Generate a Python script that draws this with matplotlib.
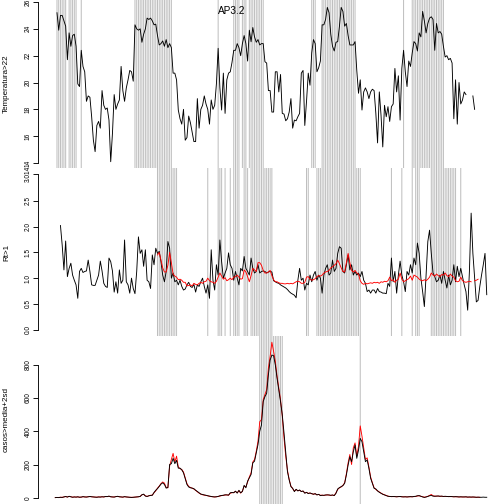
import numpy as np
import matplotlib
matplotlib.use("Agg")
import matplotlib.pyplot as plt

nan = np.nan
N_WEEKS = 250

# ---------------- data ----------------
temp_start = 1
temperature = [
    25.2, 23.9, 25.0, 25.0, 24.6, 24.2, 21.7, 23.7, 22.7, 23.5,
    23.6, 22.7, 19.9, 19.7, 22.4, 21.2, 20.8, 18.6, 19.0, 18.9,
    17.45, 15.7, 14.85, 16.8, 17.1, 16.6, 19.4, 18.3, 18.0, 18.1,
    17.2, 14.1, 16.2, 19.1, 18.0, 18.4, 18.7, 21.2, 19.4, 18.6,
    19.6, 20.2, 20.9, 20.8, 20.1, 24.3, 24.0, 23.9, 24.0, 23.0,
    23.6, 24.0, 24.8, 24.7, 24.8, 24.6, 24.3, 24.35, 23.5, 22.8,
    22.9, 23.1, 22.7, 23.2, 22.6, 22.9, 22.6, 20.7, 20.7, 20.2,
    17.95, 17.3, 16.9, 18.0, 15.7, 15.9, 17.5, 17.0, 16.3, 15.6,
    15.6, 18.8, 16.6, 18.0, 18.3, 19.0, 18.4, 18.0, 16.9, 18.7,
    18.0, 18.3, 19.9, 22.55, 19.6, 17.95, 20.7, 17.7, 20.2, 20.7,
    20.8, 21.5, 22.4, 22.4, 22.9, 22.6, 22.0, 22.9, 23.5, 22.9,
    21.6,
    23.9, 23.04, 24.1, 23.4, 23.0, 23.2, 22.8, 22.9, 22.9, 21.55,
    21.45, 19.4, 19.4, 17.8, 17.8, 20.8, 20.8, 19.3, 20.6, 17.7,
    17.65, 17.15, 17.3, 17.8, 18.8, 16.6, 17.2, 17.15, 17.45, 17.7,
    20.7, 20.9, 16.8, 18.6, 20.7, 19.8, 22.2, 23.2, 22.9, 20.8,
    21.1, 21.6, 24.3, 24.3, 24.7, 25.6, 25.2, 23.6, 22.7, 22.35,
    23.0, 23.05, 24.2, 25.6, 25.3, 24.2, 24.4, 23.5, 22.8, 22.8,
    22.8, 23.05, 20.9, 19.2, 20.2, 17.95, 19.3, 19.6, 19.3, 18.8,
    19.3, 19.5, 19.4, 17.7, 15.5, 19.3, 17.55, 15.2, 18.3, 17.45,
    18.2, 17.1, 18.2, 18.4, 21.05, 19.3, 20.5, 17.2, 21.05, 22.4,
    20.8, 19.7, 21.6, 21.2, 22.2, 23.05, 22.9, 22.35, 23.7, 23.4,
    25.3, 24.6, 23.7, 24.4, 24.8, 24.9, 24.7, 22.4, 24.4, 23.7,
    23.8, 23.6, 22.7, 21.9, 22.0, 21.7, 21.8, 21.45, 17.3, 20.2,
    16.9, 20.0, 18.4, 18.7, 19.3, 19.1, nan, nan, nan, 19.0, 18.0,
]
temp_threshold = 22

rt_start = 3
rt = [
    2.02, 1.64, 1.16, 1.72, 1.03, 1.19, 1.29, 1.06, 0.96, 0.87,
    0.61, 1.13, 1.19, 1.11, 1.13, 1.14, 1.35, 1.13, 0.87, 0.86,
    0.86, 0.96, 1.06, 1.33, 1.14, 0.90, 0.84, 0.82, 1.39, 1.32,
    1.14, 0.73, 0.93, 0.71, 1.16, 0.90, 0.96, 1.74, 0.93, 0.87,
    0.71, 1.00, 0.80, 0.70, 1.13, 1.80, 1.48, 1.55, 1.23, 1.55,
    0.96, 0.93, 0.80, 1.45, 1.26, 1.58, 1.48, 1.52, 1.32, 1.06,
    0.93, 1.13, 1.71, 1.58, 1.00, 1.10, 0.93, 0.96, 0.87, 0.96,
    0.84, 0.77, 0.79, 0.87, 0.92, 0.84, 0.82, 0.88, 0.73, 0.87,
    0.84, 0.93, 1.00, 0.84, 0.71, 0.87, 0.61, 1.55, 0.96, 0.77,
    1.26, 1.06, 1.74, 1.32, 1.00, 1.10, 1.19, 1.49, 1.26, 1.19,
    0.96, 1.13, 1.00, 0.87, 1.19, 1.14, 1.42, 1.19, 1.13, 1.06,
    1.39, 1.19, 1.10, 1.13, 1.26,
    1.10, 1.13, 1.14, 1.13, 1.10, 1.12, 1.13, 1.12, 0.95, 0.93,
    0.91, 0.90, 0.87, 0.85, 0.83, 0.81, 0.78, 0.74, 0.71, 0.69,
    0.67, 0.62, 0.96,
    1.19, 0.96, 1.00, 0.77, 0.90, 0.87, 1.06, 0.93, 1.06, 1.13,
    0.96, 1.06, 1.00, 0.71, 1.06, 1.19, 1.26, 1.06, 1.10, 1.35,
    1.13, 1.19, 1.48, 1.61, 1.58, 1.13, 1.10, 1.26, 1.45, 1.16,
    1.26, 1.06, 1.13, 1.06, 1.10, 1.03, 1.13, 0.96, 0.90, 0.74,
    0.77, 0.71, 0.77, 0.77, 0.71, 0.80, 0.74, 0.73, 0.71, 0.71,
    0.70, 0.90, 0.84, 1.39, 0.93, 1.13, 0.71, 1.06, 1.33, 1.06,
    0.93, 0.74, 1.13, 1.06, 1.26, 1.10, 1.39, 1.26, 1.68, 1.48,
    1.00, 0.74, 0.45, 1.06, 1.71, 1.93, 1.48, 1.10, 1.03, 0.93,
    0.96, 1.06, 0.90, 1.13, 0.96, 0.81, 1.06, 0.87, 0.96, 1.26,
    0.93, 1.23, 1.03, 1.19, 1.03, 0.87, 0.74, 0.38, 1.13, 2.26,
    1.48, 1.00, 0.54, 0.57, 0.84, 1.06, 1.26, 1.48, 0.68,
]

rt_smooth_start = 59
rt_smooth = [
    1.45, 1.50, 1.35, 1.20, 1.12, 1.12, 1.25, 1.50, 1.30, 1.08,
    1.04, 1.02, 0.97, 0.98, 0.96, 0.92, 0.92, 0.85, 0.86, 0.87,
    0.85, 0.90, 0.88, 0.87, 0.90, 0.92, 0.90, 0.93, 0.94, 1.00,
    0.95, 0.93, 0.92, 0.90, 0.94, 1.02, 1.10, 1.04, 0.98, 1.01,
    0.95, 0.97, 1.00, 0.97, 1.02, 1.03, 1.06, 1.02, 0.98, 0.99,
    1.16, 1.12, 1.03, 0.93, 1.05, 1.19, 1.16, 1.13, 1.30, 1.30,
    1.25, 1.15, 1.10, 1.10, 1.12, 1.15, 1.05, 0.97, 0.93, 0.93,
    0.91, 0.90, 0.90, 0.89, 0.89, 0.90, 0.89, 0.90, 0.89, 0.91,
    0.93, 0.94, 0.93, 0.90, 0.90, 0.92, 1.02, 1.03, 0.98, 0.96,
    0.97, 0.99, 1.03, 1.05, 1.04, 1.06, 1.10, 1.12, 1.13, 1.15,
    1.20, 1.22, 1.25, 1.28, 1.35, 1.28, 1.20, 1.13, 1.12, 1.30,
    1.48, 1.30, 1.15, 1.12, 1.15, 1.10, 1.08, 0.95, 0.90, 0.88,
    0.90, 0.89, 0.90, 0.91, 0.90, 0.92, 0.91, 0.92, 0.90, 0.93,
    0.92, 0.94, 0.93, 0.95, 1.02, 0.95, 0.97, 0.92, 0.96, 0.98,
    1.10, 0.98, 0.93, 0.95, 0.97, 0.99, 1.04, 0.96, 1.06, 1.04,
    1.02, 0.98, 0.96, 0.95, 0.97, 0.95, 0.98, 1.02, 1.10, 1.06,
    1.04, 1.08, 1.05, 1.03, 1.07, 1.06, 1.10, 1.05, 1.03, 1.08,
    1.04, 1.02, 0.95, 0.93, 0.94, 1.02, 0.95, 0.93, 0.92, 0.93,
    0.94, 0.93, nan, 0.95, 0.96, 0.98,
]

# weeks flagged Rt > 1 (first, last)
rt_above_one = [(59, 70), (88, 88), (94, 96), (98, 98), (101, 101),
                (103, 106), (109, 111), (113, 125), (145, 146),
                (151, 176), (194, 194), (200, 200), (206, 206),
                (208, 210), (217, 231), (234, 234)]

cases = [
    1, 2, 1, 3, 2, 5, 8, 4, 9, 6, 3, 5, 4, 6, 3, 4, 7, 5, 4, 6,
    8, 6, 5, 4, 3, 5, 4, 6, 5, 8, 7, 10, 6, 5, 4, 7, 9, 6, 5, 4,
    7, 5, 4, 3, 2, 3, 4, 5, 6, 8,
    18, 22, 10, 8, 12, 14, 15, 32, 45, 55, 68, 82, 90, 80, 58, 62,
    200, 205, 237, 205, 225, 178, 178, 168, 150, 115, 80, 65, 60, 58,
    55, 45, 38, 30, 22, 20, 17, 15, 12, 10, 8, 6, 5, 6, 8, 12,
    14, 15, 18, 17, 16, 30, 32, 30, 40, 28, 45, 30, 38, 75, 60, 100,
    120, 140, 210, 220, 270, 320, 400,
    437, 578, 608, 628, 740, 828, 858, 854, 798, 718, 648, 578, 500,
    390, 270, 157, 107, 67, 57, 37, 51, 41, 47, 37, 41, 27, 33, 25,
    29, 25, 21, 25, 17, 21, 13, 15, 15, 17, 17, 17, 15, 17, 13, 27,
    53, 61, 67, 73, 87, 137, 197, 247, 217, 277, 317, 237, 287, 357,
    337, 277, 217, 227, 177, 117, 87, 57, 53, 41, 33, 27, 21, 17, 13, 9,
    8, 7, 8, 7, 6, 7, 8, 6, 5, 6, 5, 6, 7, 6, 8, 9, 12, 13, 9, 5,
    2, 5, 8, 12, 14, 10, 9, 10, 11, 9, 10, 8, 9, 8, 7, 8, 7, 6, 7, 6,
    5, 6, 5, 5, 6, 4, 5, 4, 5, 4, 3, 4, 3, 3, 4, 3, 3,
]

cases_fit = [
    1, 2, 2, 3, 3, 5, 7, 5, 8, 6, 4, 5, 4, 5, 4, 4, 6, 5, 5, 6,
    7, 6, 5, 4, 4, 5, 5, 6, 5, 7, 7, 9, 6, 5, 5, 7, 8, 6, 5, 4,
    6, 5, 4, 3, 3, 3, 4, 5, 6, 8,
    18, 20, 12, 8, 12, 15, 16, 30, 42, 58, 70, 85, 95, 88, 62, 60,
    190, 230, 267, 215, 250, 185, 175, 170, 155, 120, 85, 68, 62, 58,
    52, 45, 36, 28, 22, 18, 16, 14, 12, 9, 7, 6, 5, 6, 8, 10,
    13, 15, 16, 18, 15, 28, 30, 32, 38, 30, 42, 28, 40, 70, 65, 95,
    125, 150, 215, 230, 280, 340, 457,
    470, 590, 620, 650, 780, 850, 935, 880, 820, 730, 660, 590, 490,
    360, 250, 165, 110, 70, 55, 40, 50, 42, 45, 38, 40, 30, 32, 27,
    28, 24, 22, 24, 18, 20, 15, 16, 14, 16, 18, 16, 14, 16, 14, 30,
    50, 60, 65, 75, 90, 145, 210, 260, 200, 300, 330, 250, 310, 432,
    370, 300, 230, 240, 185, 125, 90, 60, 50, 42, 35, 28, 22, 18, 14, 10,
    8, 7, 7, 7, 6, 7, 7, 6, 6, 6, 5, 6, 6, 6, 7, 8, 11, 12, 9, 6,
    4, 5, 9, 14, 20, 12, 10, 10, 10, 9, 9, 8, 8, 8, 7, 7, 7, 6, 6, 6,
    5, 5, 5, 5, 5, 4, 4, 4, 4, 4, 3, 3, 3, nan, nan, nan, nan,
]

title_text = "AP3.2"
ylabels = ["Temperatura>22", "Rt>1", "casos>media+2sd"]

# ---------------- helpers ----------------
weeks = np.arange(N_WEEKS)


def place(values, start):
    arr = np.full(N_WEEKS, np.nan)
    v = np.asarray(values, dtype=float)
    arr[start:start + len(v)] = v
    return arr


temp_arr = place(temperature, temp_start)
rt_arr = place(rt, rt_start)
rts_arr = place(rt_smooth, rt_smooth_start)
cases_arr = place(cases, 0)
fit_arr = place(cases_fit, 0)

mask_temp = np.nan_to_num(temp_arr, nan=-1) > temp_threshold
mask_rt = np.zeros(N_WEEKS, bool)
for a, b in rt_above_one:
    mask_rt[a:b + 1] = True
thr = np.nanmean(fit_arr) + 2 * np.nanstd(fit_arr, ddof=1)
mask_cases = np.nan_to_num(fit_arr, nan=-1) > thr

plt.rcParams['font.family'] = ['Liberation Sans', 'DejaVu Sans']

W = 504.0
fig = plt.figure(figsize=(7, 7), dpi=72)
left = 38 / W
width = 466 / W
xl = (-0.04 * (N_WEEKS - 1), (N_WEEKS - 1) * 1.04)

GRAY = '#BEBEBE'
LW = 0.9


def gray_lines(ax, mask):
    lc = ax.vlines(weeks[mask], 0, 1, transform=ax.get_xaxis_transform(),
                   colors=GRAY, lw=1.0, zorder=1)
    lc.set_snap(False)


def style(ax, ylim, ticks, labels, bounds, ylabel):
    ax.set_xlim(*xl)
    ax.set_ylim(*ylim)
    for s in ('top', 'right', 'bottom'):
        ax.spines[s].set_visible(False)
    ax.spines['left'].set_bounds(*bounds)
    ax.spines['left'].set_linewidth(0.9)
    ax.set_xticks([])
    ax.set_yticks(ticks)
    ax.set_yticklabels(labels)
    ax.tick_params(axis='y', length=5, width=0.9, pad=1.5, labelsize=6.5)
    for lab in ax.get_yticklabels():
        lab.set_rotation(90)
        lab.set_va('center')
        lab.set_ha('right')
    ax.set_ylabel(ylabel, fontsize=8, va='center')
    ax.yaxis.set_label_coords((6.5 - 38) / 466, 0.5)
    ax.patch.set_alpha(0)


# Panel 1
ax1 = fig.add_axes([left, 2 / 3, width, 1 / 3])
gray_lines(ax1, mask_temp)
ax1.plot(weeks, temp_arr, color='black', lw=LW, zorder=3)
style(ax1, (13.63, 26.15), [14, 16, 18, 20, 22, 24, 26],
      ['14', '16', '18', '20', '22', '24', '26'], (14, 26), ylabels[0])
ax1.text((232 - 38) / 466, 1 - 11 / 168, title_text, transform=ax1.transAxes,
         ha='center', va='center', fontsize=10)

# Panel 2
ax2 = fig.add_axes([left, 1 / 3, width, 1 / 3])
gray_lines(ax2, mask_rt)
ax2.plot(weeks, rt_arr, color='black', lw=LW, zorder=3)
ax2.plot(weeks, rts_arr, color='red', lw=LW, zorder=4)
rmax = 3.014
style(ax2, (-0.04 * rmax, rmax * 1.04), [0, 0.5, 1.0, 1.5, 2.0, 2.5, rmax],
      ['0.0', '0.5', '1.0', '1.5', '2.0', '2.5', '3.014'], (0, rmax), ylabels[1])

# Panel 3
ax3 = fig.add_axes([left, 0, width, 1 / 3])
gray_lines(ax3, mask_cases)
ax3.plot(weeks, fit_arr, color='red', lw=LW, zorder=3)
ax3.plot(weeks, cases_arr, color='black', lw=LW, zorder=4)
cmax = np.nanmax(fit_arr)
style(ax3, (-0.04 * cmax, cmax * 1.04), [0, 200, 400, 600, 800],
      ['0', '200', '400', '600', '800'], (0, 800), ylabels[2])

fig.savefig('out.png', dpi=72)
